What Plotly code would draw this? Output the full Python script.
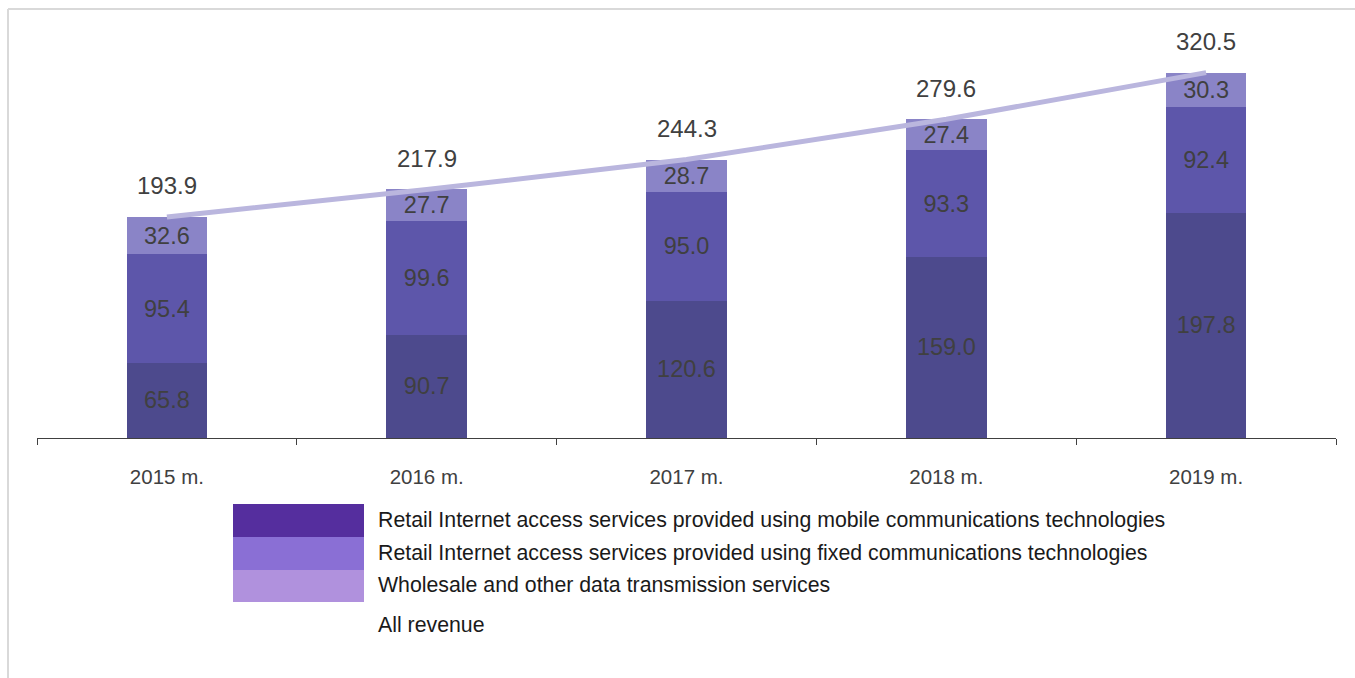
import plotly.graph_objects as go

# Revenue from data transmission and Internet access services, EUR million
years = ["2015 m.", "2016 m.", "2017 m.", "2018 m.", "2019 m."]
mobile = [65.8, 90.7, 120.6, 159.0, 197.8]
fixed = [95.4, 99.6, 95.0, 93.3, 92.4]
wholesale = [32.6, 27.7, 28.7, 27.4, 30.3]
total = [193.9, 217.9, 244.3, 279.6, 320.5]

series_names = [
    "Retail Internet access services provided using mobile communications technologies",
    "Retail Internet access services provided using fixed communications technologies",
    "Wholesale and other data transmission services",
]
line_name = "All revenue"

W, H = 1355, 678
ML, MR, MT, MB = 37, 19, 0, 240
PX_PER_UNIT = 1.14
plot_w = W - ML - MR
plot_h = H - MT - MB
y_max = plot_h / PX_PER_UNIT

bar_colors = ["#4d4a8d", "#5d56aa", "#8a84c7"]
legend_colors = ["#552e9e", "#8a6fd5", "#b091dd"]
line_color = "#bab6de"
label_color = "#404040"
FONT = "Liberation Sans, Arial, sans-serif"


def px_x(x):
    return (x - ML) / plot_w


def px_y(y):
    return (H - MB - y) / plot_h


fig = go.Figure()

for name, vals, col in zip(series_names, [mobile, fixed, wholesale], bar_colors):
    fig.add_trace(go.Bar(
        x=years, y=vals, name=name,
        marker=dict(color=col, line=dict(width=0)),
        texttemplate="%{y:.1f}", textposition="inside",
        insidetextanchor="middle", constraintext="none",
        textfont=dict(family=FONT, size=23.5, color=label_color),
        showlegend=False,
    ))

fig.add_trace(go.Scatter(
    x=years, y=total, name=line_name, mode="lines",
    line=dict(color=line_color, width=5),
    showlegend=False,
))

# totals above each column
for yr, t in zip(years, total):
    fig.add_annotation(
        x=yr, y=t, text=f"{t:.1f}", showarrow=False,
        yshift=31, yanchor="middle",
        font=dict(family=FONT, size=24, color=label_color),
    )

# legend drawn as colour swatches with captions
sw_x0, sw_x1 = 233, 364
sw_rows = [(504, 537), (537, 570), (570, 602)]
for (y0, y1), col in zip(sw_rows, legend_colors):
    fig.add_shape(type="rect", xref="paper", yref="paper",
                  x0=px_x(sw_x0), x1=px_x(sw_x1), y0=px_y(y1), y1=px_y(y0),
                  fillcolor=col, line=dict(width=0), layer="above")

caption_y = [520, 553, 585, 625]
for text, cy in zip(series_names + [line_name], caption_y):
    fig.add_annotation(
        xref="paper", yref="paper", x=px_x(376), y=px_y(cy),
        xanchor="left", yanchor="middle", showarrow=False, text=text,
        font=dict(family=FONT, size=21.3, color="#1a1a1a"),
    )

# frame lines at the left and top of the chart
frame = dict(color="#d9d9d9", width=2)
fig.add_shape(type="line", xref="paper", yref="paper",
              x0=px_x(8), x1=px_x(8), y0=px_y(H + 5), y1=px_y(9), line=frame)
fig.add_shape(type="line", xref="paper", yref="paper",
              x0=px_x(8), x1=px_x(W + 5), y0=px_y(9), y1=px_y(9), line=frame)

fig.update_layout(
    width=W, height=H,
    margin=dict(l=ML, r=MR, t=MT, b=MB),
    barmode="stack", bargap=0.69,
    plot_bgcolor="white", paper_bgcolor="white",
    font=dict(family=FONT),
    xaxis=dict(
        type="category", range=[-0.5, 4.5],
        showline=True, linecolor="#404040", linewidth=1,
        ticks="outside", tickson="boundaries", ticklen=6,
        tickcolor="#404040", tickwidth=1,
        ticklabelstandoff=20,
        tickfont=dict(family=FONT, size=20.5, color="#404040"),
        showgrid=False, zeroline=False,
    ),
    yaxis=dict(range=[0, y_max], visible=False, showgrid=False, zeroline=False),
)

fig.write_html("out.html")
